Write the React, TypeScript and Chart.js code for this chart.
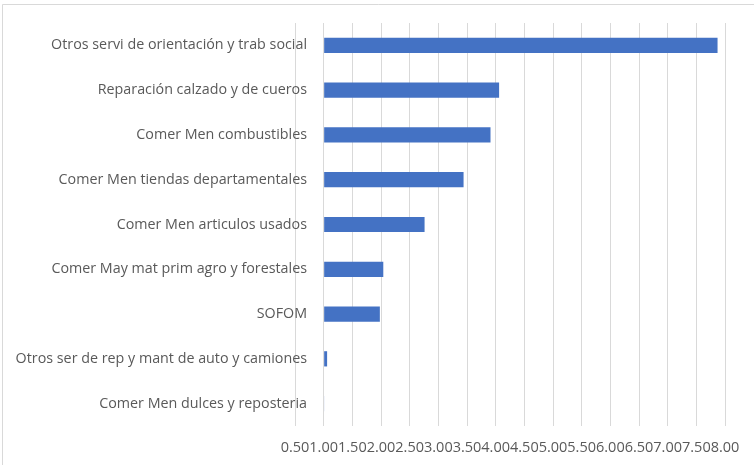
import React, { useEffect, useRef } from "react";
import { Chart, registerables } from "chart.js";

Chart.register(...registerables);

const categories = [
  "Otros servi de orientación y trab social",
  "Reparación calzado y de cueros",
  "Comer Men combustibles",
  "Comer Men tiendas departamentales",
  "Comer Men articulos usados",
  "Comer May mat prim agro y forestales",
  "SOFOM",
  "Otros ser de rep y mant de auto y camiones",
  "Comer Men dulces y reposteria",
];

const values = [7.87, 4.06, 3.91, 3.44, 2.76, 2.04, 1.98, 1.06, 1.01];

const axisMin = 0.5;
const axisMax = 8;
const axisStep = 0.5;
const baseValue = 1;

export default function App() {
  const ref = useRef<HTMLCanvasElement>(null);

  useEffect(() => {
    if (!ref.current) return;
    const framePlugin = {
      id: "frame",
      beforeDraw(chart: any) {
        const ctx = chart.ctx;
        ctx.save();
        ctx.fillStyle = "#ffffff";
        ctx.fillRect(0, 0, chart.width, chart.height);
        ctx.strokeStyle = "#d9d9d9";
        ctx.lineWidth = 1;
        ctx.beginPath();
        ctx.moveTo(2.5, chart.height);
        ctx.lineTo(2.5, 4.5);
        ctx.lineTo(chart.width, 4.5);
        ctx.stroke();
        ctx.restore();
      },
    };
    // let category labels reach into the plot area, as in the original
    const labelShiftPlugin = {
      id: "labelShift",
      afterLayout(chart: any) {
        const y = chart.scales.y;
        y.right = chart.chartArea.left + 12;
        y._labelItems = null;
      },
    };
    const font = { family: "'Open Sans', sans-serif", size: 14.3 };
    const chart = new Chart(ref.current, {
      type: "bar",
      data: {
        labels: categories,
        datasets: [
          {
            data: values,
            base: baseValue,
            backgroundColor: "#4472C4",
            borderWidth: 0,
            barPercentage: 0.34,
            categoryPercentage: 1,
          } as any,
        ],
      },
      options: {
        indexAxis: "y",
        responsive: false,
        animation: false,
        layout: { padding: { top: 23, right: 29, bottom: 8, left: 0 } },
        plugins: { legend: { display: false }, tooltip: { enabled: false } },
        scales: {
          x: {
            type: "linear",
            min: axisMin,
            max: axisMax,
            grid: { color: "#d9d9d9", drawTicks: false },
            border: { display: false },
            ticks: {
              stepSize: axisStep,
              autoSkip: false,
              maxRotation: 0,
              minRotation: 0,
              padding: 13,
              color: "#595959",
              font: { family: "'Open Sans', sans-serif", size: 14.5 },
              callback: (v: any) => Number(v).toFixed(2),
            },
            afterFit: (s: any) => {
              s.height = 31;
            },
          },
          y: {
            grid: { display: false, drawTicks: false },
            border: { display: false },
            ticks: { padding: 0, color: "#595959", font },
            afterFit: (s: any) => {
              s.width = 295;
            },
          },
        },
      },
      plugins: [framePlugin, labelShiftPlugin],
    } as any);
    return () => chart.destroy();
  }, []);

  return (
    <div style={{ position: "fixed", left: 0, top: 0, width: 754, height: 465 }}>
      <canvas ref={ref} width={754} height={465} style={{ display: "block" }} />
    </div>
  );
}
